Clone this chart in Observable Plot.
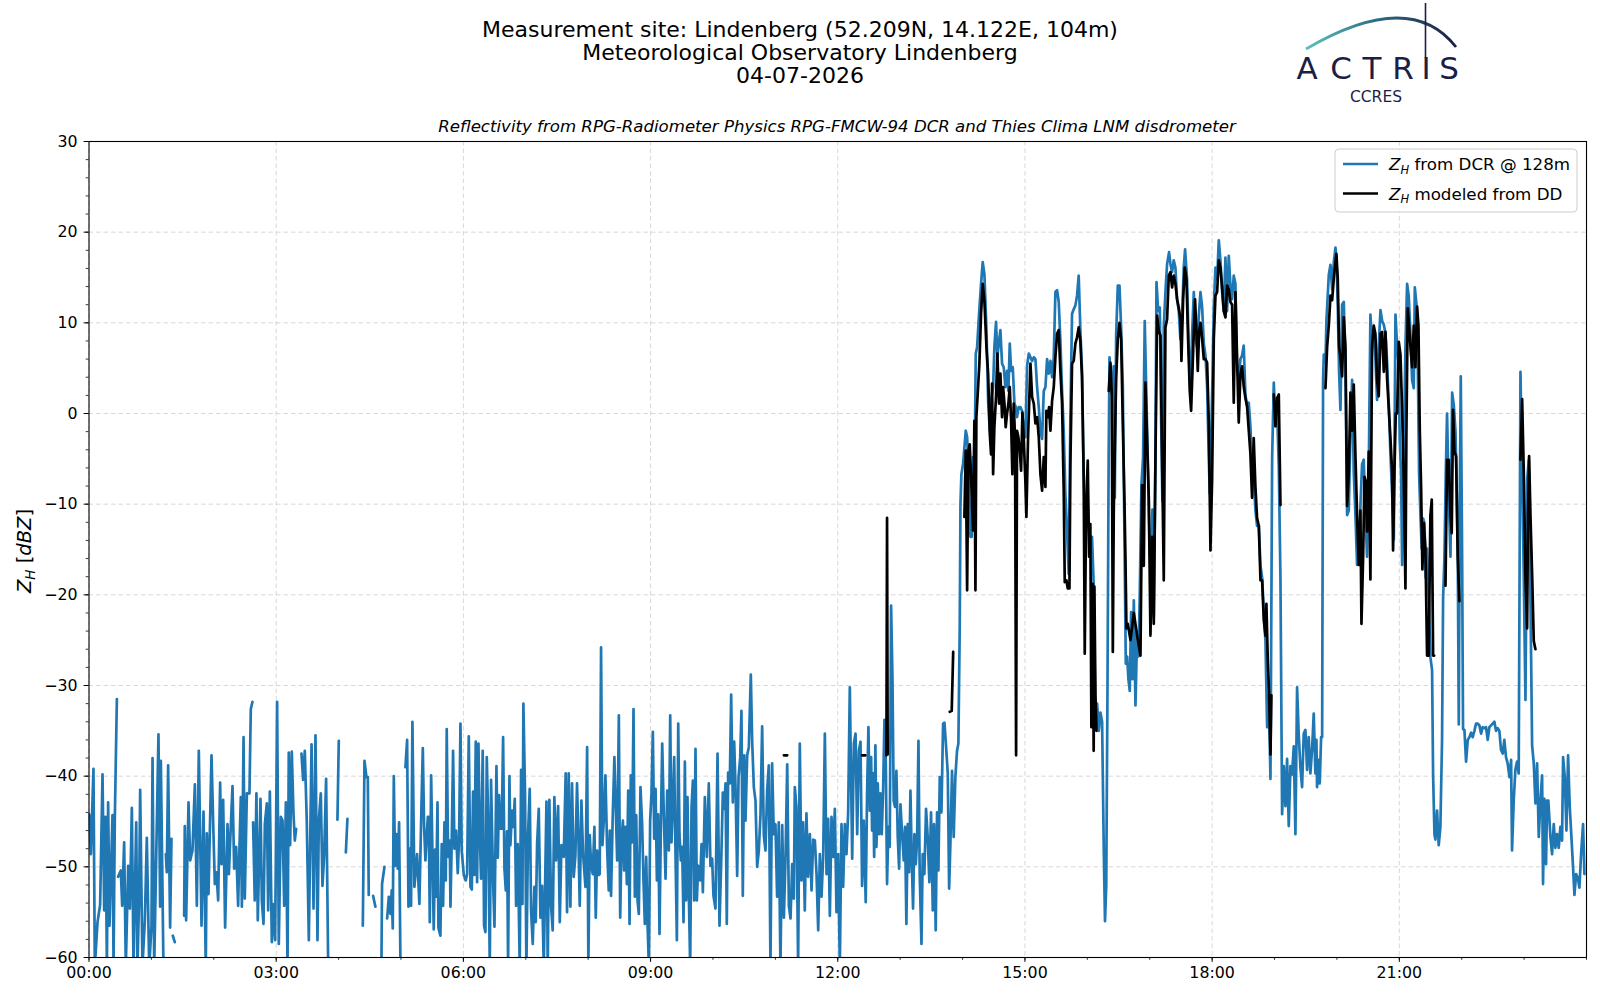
<!DOCTYPE html>
<html><head><meta charset="utf-8">
<script src="https://cdn.jsdelivr.net/npm/d3@7"></script>
<script src="https://cdn.jsdelivr.net/npm/@observablehq/plot@0.6"></script>
<style>
html,body{margin:0;padding:0;background:#fff;}
#page{position:relative;width:1600px;height:1000px;overflow:hidden;font-family:"DejaVu Sans",sans-serif;color:#000;background:#fff;}
#chart{position:absolute;left:0;top:130px;}
#overlay{position:absolute;left:0;top:0;pointer-events:none;}
</style></head>
<body><div id="page"><div id="chart"></div>
<svg id="overlay" width="1600" height="1000" font-family="DejaVu Sans, sans-serif">
  <defs><linearGradient id="arcg" x1="1306" y1="0" x2="1456" y2="0" gradientUnits="userSpaceOnUse">
    <stop offset="0" stop-color="#5cc2bd"/><stop offset="0.45" stop-color="#2f6f86"/><stop offset="1" stop-color="#1b1e45"/></linearGradient></defs>
  <g id="titles" text-anchor="middle" font-size="22">
    <text x="800" y="36.5">Measurement site: Lindenberg (52.209N, 14.122E, 104m)</text>
    <text x="800" y="59.5">Meteorological Observatory Lindenberg</text>
    <text x="800" y="82.5">04-07-2026</text>
  </g>
  <text x="837" y="131.5" text-anchor="middle" font-size="16.6" font-style="italic">Reflectivity from RPG-Radiometer Physics RPG-FMCW-94 DCR and Thies Clima LNM disdrometer</text>
  <g id="logo">
    <path d="M1306,49 Q1410,-12 1456,47" fill="none" stroke="url(#arcg)" stroke-width="2.8"/>
    <line x1="1425.5" y1="3" x2="1425.5" y2="58" stroke="#1b1e45" stroke-width="1.6"/>
    <g font-size="31" fill="#1b1e45" text-anchor="middle">
      <text x="1307" y="79">A</text><text x="1341" y="79">C</text><text x="1372" y="79">T</text>
      <text x="1403" y="79">R</text><text x="1426" y="79">I</text><text x="1449" y="79">S</text>
    </g>
    <text x="1376" y="101.5" font-size="15.5" fill="#1b1e45" text-anchor="middle">CCRES</text>
  </g>
  <g id="legend">
    <rect x="1335" y="149" width="242" height="63" rx="4" fill="#fff" fill-opacity="0.8" stroke="#cccccc"/>
    <line x1="1343" y1="164" x2="1378" y2="164" stroke="#1f77b4" stroke-width="2.6"/>
    <line x1="1343" y1="193.5" x2="1378" y2="193.5" stroke="#000" stroke-width="2.6"/>
    <text x="1389" y="170" font-size="16.7"><tspan font-style="italic">Z</tspan><tspan font-style="italic" font-size="11.5" dy="3.5">H</tspan><tspan dy="-3.5"> from DCR @ 128m</tspan></text>
    <text x="1389" y="199.5" font-size="16.7"><tspan font-style="italic">Z</tspan><tspan font-style="italic" font-size="11.5" dy="3.5">H</tspan><tspan dy="-3.5"> modeled from DD</tspan></text>
  </g>
  <text transform="translate(31,551) rotate(-90)" text-anchor="middle" font-size="19.5"><tspan font-style="italic">Z</tspan><tspan font-style="italic" font-size="13.5" dy="4">H</tspan><tspan dy="-4"> [</tspan><tspan font-style="italic">dBZ</tspan><tspan>]</tspan></text>
</svg>
</div>
<script>
// minutes after 00:00 UTC, reflectivity in dBZ (null = no data)
const dcrSeries = [
[0.2,-44.2],[1.8,-48.6],[4.3,-39.2],[5.6,-61],[8.2,-56.1],[10.7,-54.2],[13,-39.8],[14.6,-54.8],[15.9,-44.5],[17.2,-61],[18.4,-42.9],[19.7,-56.5],[22.6,-44.3],[23.6,-61],[24.8,-44.9],[26.8,-31.5],[27.4,null],
[28,-51.1],[30.6,-50.4],[31.9,-54.3],[33.8,-47.3],[35.4,-61],[37.7,-49.9],[39.3,-54.6],[41.2,-43.5],[42.8,-61],[45.4,-45.1],[46.6,-61],[48.2,-53.3],[49.2,-41.5],[51.4,-61],[53.7,-55.9],[55.6,-46.8],[57.9,-61],[60.1,-56.5],[61.1,-38],[62.7,-61],[66.8,-35.4],[68.4,-54.4],[69.1,-38.3],[71.6,-61],[72.8,null],
[73.9,-48.6],[74.8,-50.6],[76.1,-38.8],[78,-56.7],[79.3,-46.9],[80,null],[80.6,-57.6],[82.5,-58.3],[83,null],
[91.5,-55.4],[92.1,-45.5],[93.4,-55.9],[95.7,-42.9],[97.3,-49.3],[99.5,-48.2],[101.8,-40.9],[103.7,-54.3],[105.6,-37.2],[108.2,-56.5],[110.1,-43.9],[112.3,-61],[113.3,-46.3],[114.9,-53],[117.8,-37.7],[119.7,-46.4],[121,-51.9],[122.6,-50.6],[124.2,-53.7],[126.1,-40.7],[127.4,-49.7],[129,-42.6],[130.9,-56.7],[133.2,-45.3],[134.5,-50.8],[135.7,-47.3],[138,-41.1],[139.6,-50.2],[141.5,-47.8],[143.4,-54.3],[144.7,-47.8],[146,-42.3],[147,-54.4],[148.6,-35.7],[149.8,-53.5],[151.8,-41.9],[154.3,-41.9],[155.6,-32.6],[157.2,-31.8],[157.5,null],
[157.8,-45.1],[159.4,-53.7],[161,-41.9],[162.3,-55.9],[164.9,-42.5],[166.2,-53.7],[167.8,-56.3],[169.1,-45.3],[171,-43],[172.3,-54.8],[173.9,-41.7],[175.8,-58.3],[177.4,-54.1],[179,-58.1],[180.9,-31.8],[182.5,-58.5],[184.5,-44.5],[186.1,-44.9],[187.7,-54.3],[189.3,-42.9],[190.9,-61],[192.1,-37.4],[193.4,-47.6],[195,-37.3],[196.6,-44],[197.9,-47.1],[199.2,-45.8],[201,null],
[204.3,-37.5],[205.9,-40.4],[207.5,-37.2],[209.4,-44.9],[211.4,-58.1],[214,-36.5],[215.9,-54.6],[217.8,-35.5],[219.7,-58.1],[221,-44.9],[222.9,-41.9],[224.5,-52.1],[226.1,-48.8],[228,-40.3],[230,-61],[232,null],
[238.9,-44.8],[240.2,-36.1],[242,null],[247,-48.4],[248.5,-44.7],[250,null],
[263.3,-56.5],[264.9,-38.3],[266.8,-40.1],[268.1,-40.1],[269,-53.1],[270,null],[273.2,-53.2],[275.4,-54.4],[277,null],[281.2,-61],[281.8,-51.9],[284.1,-50],[285,null],
[286.7,-55.7],[288.3,-53.3],[289.9,-55.2],[291.1,-52.6],[292.1,-56.8],[293.1,-40],[294.3,-49.9],[295.6,-46.4],[296.9,-50.2],[298.2,-45.1],[299.5,-61],[301,null],
[304.3,-39],[305.9,-36],[307.2,-54.4],[308.4,-48],[309.7,-54.3],[311,-34],[312.9,-52.2],[315.5,-48.6],[317.7,-54.1],[319.7,-43.2],[321,-36.9],[322.2,-45.4],[323.5,-49.3],[325.8,-44.5],[326.7,-44.5],[327.7,-56.1],[329,-39.9],[330.2,-48.2],[331.5,-56.9],[332.8,-48.1],[333.8,-53.3],[335.1,-42.9],[336,-56.7],[337.9,-57.6],[339.2,-47.5],[340.5,-54.3],[341.8,-45.1],[343.1,-51.5],[344,-34.8],[345.3,-48.9],[346.9,-47.1],[347.6,-54.4],[348.8,-47.1],[350.1,-37.2],[351.4,-48],[353,-46],[354.6,-50.7],[355.9,-46.7],[357.2,-34.2],[358.4,-48.2],[360.4,-50.9],[362.3,-51.5],[363.6,-50.8],[365.2,-35.6],[366.8,-52.2],[368.1,-52.5],[369.3,-41.7],[370.6,-50.9],[371.9,-36.2],[373.2,-51.7],[374.5,-36.4],[375.8,-46.5],[377,-51.3],[378.6,-37.2],[379.9,-56.5],[381.2,-57.2],[382.5,-37.9],[383.8,-44.5],[385.4,-61],[386.6,-40.4],[388.6,-51.7],[389.9,-56.6],[391.8,-38.9],[393.1,-49],[394.3,-42.1],[395.6,-45.8],[396.9,-45.8],[398.2,-35.7],[399.5,-50.2],[400.8,-52.6],[402,-46.1],[403,-61],[404.3,-40],[405.2,-47.6],[406.8,-43.8],[408.1,-45.6],[409.4,-42.5],[410.7,-54.3],[412.3,-47.5],[414.2,-61],[415.5,-39.3],[416.8,-54.1],[417.7,-32],[419.3,-41.9],[420.6,-61],[422.2,-46.4],[423.8,-41.4],[425.1,-54.8],[426.7,-58.5],[428.3,-52.2],[429.6,-56.1],[430.9,-47.5],[432.5,-43.6],[434.1,-55.6],[435.7,-52.1],[437.3,-61],[439.9,-42.8],[441.1,-61],[442.7,-42.6],[444.3,-54.3],[445.9,-57],[447.5,-42.3],[449.1,-49.3],[451.1,-43.3],[452.7,-56.1],[454.3,-47.6],[456.5,-48.9],[458.4,-39.7],[459.7,-55],[461.3,-39.7],[462.9,-54.4],[464.5,-40.8],[466.1,-51.1],[467.7,-48.8],[469.3,-40.8],[470.6,-46.7],[471.9,-54.3],[473.5,-42.7],[475.1,-48.6],[477.4,-52.2],[479,-36.8],[480.2,-61],[481.5,-46.5],[482.8,-49.7],[484.4,-50.8],[486,-45.6],[487.3,-55.6],[488.6,-48.2],[490.2,-50.9],[491.1,-50.8],[492.4,-25.8],[493.7,-47.6],[495,-44.9],[496.6,-39.9],[498.2,-47.8],[499.8,-52.6],[500.8,-46],[502,-53.2],[503.6,-44.5],[505.2,-37.9],
[507.9,-49.3],[509.5,-33.3],[510.8,-55.6],[512.1,-47.1],[513.4,-44.9],[514.6,-50.4],[515.9,-45.6],[517.2,-51.9],[518.5,-41.6],[519.8,-56.3],[521,-39.9],[522.3,-47.3],[523.6,-32.6],[524.9,-53.3],[526.2,-44.3],[527.5,-53.7],[528.7,-55.2],[530.3,-41.2],[531.9,-45.3],[533.2,-51.5],[534.5,-56.3],[535.8,-48.9],[537.1,-56.3],[538.4,-61],[539.6,-44.9],[540.9,-41.9],[542.2,-35.1],[543.5,-46.9],[544.8,-41.4],[546.1,-51.5],[547.3,-44.2],[548.6,-57.4],[549.9,-45.6],[551.2,-36.4],[552.8,-44.5],[554.4,-51.3],[556,-41.6],[557.6,-48.2],[558.9,-33.3],[560.1,-47.3],[561.4,-43.4],[562.7,-37.9],[564,-48.6],[565.3,-58.1],[566.6,-34.2],[567.8,-46.4],[569.1,-49.3],[570.4,-47.8],[571.7,-56.1],[573,-38.4],[574.2,-53.7],[575.5,-42.3],[576.8,-53],[578.1,-61],[579.4,-43.4],[580.7,-40.5],[581.9,-53.7],[583.2,-37],[584.5,-53.7],[585.8,-49.9],[587.7,-51.5],[589,-47.5],[590.3,-52.8],[592.2,-42.3],[594.1,-48.9],[596,-40.8],[597.6,-49.9],[599.2,-49.1],[600.5,-53.2],[602.4,-54.6],[604.4,-37.5],[606.3,-56.5],[608.2,-48.2],[609.5,-41.8],[610.8,-43.6],[612.1,-40.8],[613.3,-56.3],[614.6,-39.6],[616.2,-40.8],[617.5,-31],[619.1,-42.9],[620.4,-36.2],[621.7,-41.2],[623.3,-51],[624.6,-40.1],[626.2,-37.9],[627.4,-32.8],[628.7,-53.2],[630,-37.7],[631.3,-44.9],[632.9,-37.7],[634.5,-36.8],[636.4,-28.8],[637.7,-36.1],[639.3,-41.2],[640.9,-42.7],[642.5,-50],[644.1,-48.2],[645.7,-44.3],[647.3,-34.5],[648.9,-46.5],[650.5,-48.2],[652.1,-41.6],[653.7,-38.8],[655.3,-61],[656.9,-38.6],[658.5,-46.4],[660.1,-45.3],[661.7,-53.3],[663.3,-45.1],[664.9,-61],[666.6,-45.4],[668.2,-55.6],[669.8,-48.9],[671.4,-38.7],[673,-54.3],[674.6,-55.7],[676.2,-49.7],[677.8,-53.5],[678.7,-41.2],[680.3,-43.4],[681.9,-61],[683.5,-36.4],[685.1,-51.5],[686.7,-45.1],[688.3,-54.8],[689.9,-44.1],[691.5,-51.1],[693.2,-46.4],[694.8,-52.6],[696.4,-47],[698,-47.1],[699.6,-50.8],[701.2,-57],[702.8,-48.6],[704.4,-53.3],[706,-48.8],[707.6,-35.3],[709.2,-50.8],[710.8,-44.7],[712.4,-55.4],[714,-44.5],[715.6,-48.9],[717.2,-43.6],[718.8,-55],[720.4,-48.6],[722,-61],[723.6,-45.3],[725.2,-52.2],[726.8,-45.3],[728.4,-48.6],[730,-44],[731.6,-30.2],[733.9,-49.1],[735.5,-36.4],[737.1,-35.3],[738.7,-46.4],[740.3,-37.2],[741.9,-36.2],
[743.4,-52.1],[745,-44.9],[746.9,-53.9],[748.2,-41.9],[749.5,-34.6],[750.8,-43.8],[752.1,-37.9],[753,-46],[754,-39.7],[755,-48.9],[756.2,-36.6],[757.2,-47.8],[758.5,-40.8],[759.7,-46.4],[761,-41.9],[762.3,-46.4],[763.6,-41.6],[764.9,-33.8],[766.2,-38.3],[767.4,-51.9],[768.7,-45.6],[770,-47.8],[771.3,-21.2],[772.6,-29.1],[773.8,-42.7],[775.1,-43.4],[776.4,-39.4],[777.7,-46.7],[779,-50.2],[780.3,-43.1],[781.9,-46.4],[783.5,-49.3],[784.7,-45.6],[786,-56.3],[787.3,-45.3],[788.6,-50.6],[789.9,-41.6],[791.2,-49.3],[792.4,-54.6],[793.7,-46.4],[795,-49.7],[796.3,-47.1],[797.6,-36.1],[798.8,-50.8],[800.5,-58.5],[801.7,-48.6],[803.3,-50.8],[804.9,-43.6],[806.5,-46.7],[808.1,-51.7],[809.7,-44],[811.4,-54.8],[812.6,-45.3],[814.2,-57],[815.5,-44],[816.8,-50.4],[818.1,-40.1],[819.7,-44],[821.3,-34.2],[822.6,-34.1],[824.2,-36.8],[825.8,-39.7],[827.1,-52.4],[828.3,-47.5],[829.9,-39.4],[831.5,-46.7],[833.1,-40.1],[834.7,-37.2],[836,-36.4],[837.3,-23.6],
[838,-10],[838.9,-6.7],[840.5,-5.6],[843.1,-1.9],[844.4,-2.6],[846,-7],[847.6,-13.6],[848.8,-13.6],[850.1,-4.8],[851.4,-8.5],[852.7,6.6],[854,7.3],[855.9,11],[857.8,14.3],[859.4,16.7],[861,15.4],[863,9.2],[864.6,1.4],[866.2,-1.9],[867.8,1.8],[869.4,2.9],[870.6,7.3],[872.2,10.1],[873.5,6.2],[875.1,8],[876.4,9.2],[878,5.5],[879.6,5.1],[881.2,2.9],[882.8,4.7],[884.1,2.5],[885.4,7.7],[886.7,4.7],[888.3,5.1],[889.9,1.1],[891.2,0.7],[892.4,-0.4],[894,0.7],[895.6,0.7],[897.2,0.3],[898.8,-1.9],[900.4,-2.6],[902.1,5.3],[903.7,6.6],[905.3,6.2],[906.9,5.8],[908.5,6.2],[910.1,6],[911.7,2.9],[913.3,0.7],[914.9,-1.9],[916.5,-2.8],[918.1,2.5],[919.7,2.9],[921.3,6],[922.9,4.4],[924.5,5.8],[926.1,4],[927.7,6.2],[929.3,13.4],[930.9,13.6],[932.5,12.3],[934.1,8],[935.7,2.5],[937.3,-1.9],[938.9,-8.9],[940.5,-12.9],[942.1,-17.7],[943.7,-0.4],[945.3,11],[946.9,11.5],[948.5,11.9],[950.1,13],[951.7,15.2],[953.3,9.2],[954.9,4.7],[956.5,-7],[958.1,-12.2],[959.7,-8.9],[961.3,-12.2],[962.9,-14.7],[964.5,-13.6],[966.1,-18.8],[967.8,-34.2],[969.4,-32],[971,-35],[972.6,-33],[974.2,-34],[975.8,-48],[977,-56],[978.2,-52],[979.4,-30],[980.5,-5],[981.3,6.2],[982.9,3.8],[983.8,2.1],[985.4,5.2],[986.4,-9.3],[987.7,8.6],[989.3,14.1],[990.9,14.1],[992.5,9.5],[994.1,3.1],[995.7,-13.6],[997,-27.6],[998.3,-26.8],[999.5,-29.3],[1000.8,-30.6],[1002.1,-21.9],[1003.4,-29.3],[1004.7,-20.6],[1006.3,-32.2],[1007.9,-24.1],[1009.2,-26.8],[1010.4,-20.2],[1012,-7.9],[1013.6,-4.9],[1015.2,10.2],[1016.5,3.4],[1018.1,-4.9],[1019.7,-13.6],[1021.3,-18],[1022.6,-10.6],[1023.9,-22.4],[1025.5,-4.9],[1026.5,14.5],[1028.1,11.3],[1029.7,11.7],[1031,-1],[1032.2,-9.7],[1033.5,9.5],[1035.1,13.4],[1036.7,16.5],[1038.6,17.8],[1039.9,16.5],[1041.5,15.6],[1043.1,16.9],[1044.7,16.1],[1046.3,12.6],[1047.9,11.3],[1049.5,8.2],[1051.1,10.4],[1052.7,16.1],[1054,18.1],[1055.9,14.8],[1057.5,7.3],[1059.2,2.5],[1060.8,8.9],[1062.4,13.4],[1064,8.2],[1065.6,7.3],[1067.2,10.8],[1068.8,13.4],[1070.4,11.7],[1072,7.7],[1073.6,6.4],[1075.2,2.9],[1076.8,-4.9],[1077.7,-8.8],[1079,-3.1],[1080.3,3.8],[1081.6,11.7],[1083.2,16.1],[1084.8,14.8],[1086.4,19.1],[1088,16.9],[1089.6,13.4],[1091.2,11.3],[1092.8,17.2],[1094.4,11.3],[1096,17.4],[1097.6,14.1],[1099.2,12.6],[1100.8,15.2],[1102.4,14.3],[1104,4.7],[1105.6,3.8],[1107.2,6],[1108.8,6.4],[1110.4,7.5],[1112,2.1],[1113.6,0.8],[1115.2,1.2],[1116.8,-1.4],[1118.4,-5.8],[1120,-7.1],[1121.6,-10.6],[1123.2,-12.4],[1124.9,-12.4],[1126.5,-16.8],[1128.1,-18.1],[1129.7,-22],[1131.3,-25.1],[1132.9,-34.6],[1134.5,-31.1],[1136.1,-40.3],[1137.7,-4.9],[1139.3,3.4],[1140.9,-1.4],[1142.5,0.3],[1144.1,-5.8],[1145.7,-18.1],[1147.3,-44.2],[1148.9,-38.9],[1150.5,-43.3],[1152.1,-38.1],[1153.7,-45.5],[1155.3,-38.9],[1156.9,-39.8],[1158.5,-36.7],[1160.1,-46.4],[1161.7,-30.2],[1163.3,-35.5],[1164.9,-39],[1166.5,-41.2],[1168.1,-35.3],[1169.7,-34.9],[1171.3,-39.3],[1172.9,-35.7],[1174.5,-39.7],[1176.1,-37.1],[1177.7,-33.1],[1179.3,-39.7],[1180.3,-36],[1180.9,-41.2],[1182.5,-38.2],[1183.5,-40.8],[1184.8,-35.7],[1185.8,-35.7],[1186.7,3.7],[1187.4,6.5],[1189,5.6],[1189.9,10.2],[1192.2,15.3],[1193.8,16.4],[1195.4,13.7],[1197,16.7],[1198.6,18.3],[1199.5,17.1],[1200.8,12],[1202.1,4.6],[1203.4,0.4],[1205,12],[1206.6,12.3],[1208.2,5.1],[1209.8,-11.2],[1211.4,-10.7],[1213,-2.3],[1214.6,3.7],[1216.2,-6.5],[1217.8,-11.2],[1219.4,-16.7],[1221,-16.3],[1222.6,-10.2],[1224.2,-5.6],[1225.8,-5.1],[1227.4,-11.2],[1229,-15.8],[1230.6,-6.5],[1232.2,10.9],[1233.8,7.4],[1235.4,8.3],[1237,6.1],[1238.6,1.5],[1240.2,7.4],[1241.9,11.4],[1243.5,10.2],[1245.1,9.8],[1246.7,8.8],[1248.3,5.6],[1249.9,0.9],[1251.5,-4.6],[1253.1,-8.8],[1254.7,-13.9],[1256.3,10.9],[1257.9,7.4],[1259.5,5.1],[1260.4,-2.9],[1261.7,-6.5],[1262.7,-16.7],[1264.3,-4.6],[1265.9,7.4],[1267.5,14.3],[1269.1,12.9],[1270.7,8.8],[1272.3,3.7],[1273.9,2.8],[1274.9,13.9],[1276.5,12],[1277.8,5.1],[1279,-6.5],[1280.3,-11.2],[1281.6,-14.9],[1282.9,-11.6],[1284.2,-12.1],[1285.4,-18.1],[1286.7,-14.9],[1288.3,-20.4],[1289.9,-26.9],[1291.5,-28.3],[1292.5,-39.9],[1293.8,-46.4],[1294.7,-47],[1296.3,-43.8],[1297.9,-47.6],[1299.5,-45.6],[1301.1,-36],[1302.1,-20.4],[1303.4,-15.8],[1304.7,-6.5],[1305.9,0],[1307.5,-8.8],[1309.2,-15.8],[1310.8,2.3],[1312.4,0.9],[1314,-1.9],[1314.9,-6.5],[1316.2,-15.8],[1317.2,-34.3],[1318.1,-10.2],[1319.1,4.1],[1320.4,-15.8],[1321.3,-34.8],[1322.6,-34.9],[1324.2,-38.4],[1325.8,-36],[1327.4,-35.7],[1329,-35.2],[1330.6,-35.7],[1332.2,-35],[1333.8,-34.2],[1335.4,-34.2],[1337,-34.4],[1338.6,-35.3],[1340.2,-34.6],[1341.8,-34.7],[1343.4,-34.6],[1345,-36],[1346.6,-34.6],[1348.2,-34.4],[1349.8,-34.2],[1351.4,-34],[1353,-35],[1354.6,-34.7],[1356.2,-35],[1357.8,-37.1],[1359.4,-37.5],[1361,-36],[1362.6,-37.9],[1364.2,-38.6],[1365.9,-40.1],[1367.5,-38.2],[1368.4,-48.2],[1370,-42.7],[1371.6,-39.3],[1373.2,-38.4],[1374.8,-39.7],[1376.5,4.6],[1378.1,-6.5],[1379.7,-18.1],[1381.3,-31.6],[1382.9,-7.4],[1384.5,-5.1],[1386.1,-20.4],[1387.7,-36.6],[1389.3,-38.6],[1390.9,-43],[1392.5,-38.6],[1394.1,-46.7],[1395.7,-42.7],[1397.3,-39.9],[1398.2,-51.9],[1399.5,-42.5],[1401.1,-49.7],[1402.1,-42.7],[1403.3,-42.7],[1405.3,-46.7],[1406.9,-48.6],[1408.5,-45.3],[1410.1,-47.9],[1411.7,-46.4],[1413.3,-47.9],[1414.9,-45.6],[1416.5,-47.1],[1417.5,-37.9],[1419.1,-40.1],[1420.7,-46],[1422.3,-37.7],[1423.9,-43.4],[1425.5,-46.7],[1427.1,-50.1],[1428.4,-53.1],[1430,-50.8],[1431.6,-51.2],[1433.2,-52.3],[1434.8,-48.6],[1436.7,-45.3],[1438,-50.8]
];
const ddSeries = [
[668.2,-37.7],[671.4,-37.7],[672,null],[743.4,-37.7],[746.6,-37.7],[747,null],[766.8,-37.7],[767.4,-11.5],[768,-37.6],[768.5,null],[827.7,-32.9],[829.6,-32.8],[831,-26.3],[832,null],
[841.8,-11.4],[843.1,-4.1],[844.4,-19.5],[845.6,-4.1],[846.9,-3.4],[848.2,-7],[850.1,-12.9],[851.4,-0.8],[852.4,-19.5],[853.3,-0.4],[854.6,2.2],[856.2,5.5],[857.8,11],[859.4,14.3],[861,12.5],[863,7.3],[864.6,4.4],[866.2,-2.2],[867.4,-4.5],[868.4,3.3],[869.4,-6.7],[870.6,-1.5],[872.2,1.8],[873.5,6.6],[875.1,1.1],[876.4,4.4],[878,-0.4],[879,2.9],[880.3,1.1],[881.5,-1.5],[882.8,0],[884.1,1.1],[885.4,2.9],[886.7,-0.8],[887.9,-6.7],[889.2,1.1],[890.5,-2.6],[891.5,-37.7],[892.4,-1.9],[893.7,-2.6],[895,-4.1],[896.3,-6.3],[897.6,0.1],[898.8,-2.6],[900.4,-7.4],[901.4,-11.4],[903,-2.6],[905.3,5.5],[906.9,1.8],[908.5,1.1],[910.1,-1.1],[911.7,-0.4],[913.3,-2.6],[914.9,-6.7],[916.5,-8.5],[918.1,-4.8],[919.7,-8.1],[920.6,0.3],[921.9,-0.4],[923.2,0.7],[924.5,-1.9],[926.1,1.4],[927.7,2.9],[929.3,6.2],[930.9,8.8],[932.5,9.2],[934.1,4.7],[935.7,1.1],[937.3,-8.5],[938.3,-18.6],[939.9,-18.4],[941.2,-19.3],[942.8,-19.3],[943.7,-5.6],[945.3,5.5],[946.9,5.8],[948.5,7.7],[950.1,8.4],[951.7,9.5],[953.3,8],[954.9,4],[956.5,-7],[957.5,-26.5],[958.8,-10.7],[960.4,-5.2],[961.7,-15.8],[962.9,-12.2],[963.9,-34.6],[965.2,-18.8],[966.1,-37.2],[966.8,-19.1],[967.8,-31.1],[968.8,-35],[969.5,null],
[980.6,2.5],[982.2,5.6],[983.5,2.1],[984.5,-26.3],[985.4,-11],[986.4,-4],[987.7,3.8],[989.3,8.2],[990.9,10],[992.5,8.2],[994.1,-1],[995.7,-9.7],[996.7,-16.3],[997.6,-23.7],[998.9,-23.2],[1001.5,-25],[1004.7,-22],[1007.9,-24.5],[1011.1,-26.7],[1012.7,-7.9],[1014.3,-16.8],[1015.9,3.4],[1017.5,-3.1],[1019.1,-9.3],[1020.7,-24.5],[1022.3,-13.6],[1023.9,-23.2],[1025.5,-4.9],[1027.1,10.8],[1028.7,9.1],[1030.3,8.6],[1031.9,-4.9],[1033.5,-18.4],[1035.1,9.5],[1036.7,10.4],[1038.3,15.2],[1039.9,15.6],[1041.5,13.9],[1043.1,15.2],[1044.7,14.3],[1046.3,12.6],[1047.9,11.7],[1049.5,10.4],[1050.5,5.8],[1052.1,12.6],[1053.7,16.1],[1055.3,14.8],[1056.9,8.2],[1058.5,2.5],[1059.8,0.3],[1061.1,4.7],[1062.4,9.1],[1063.6,12.6],[1064.9,9.1],[1066.2,4.7],[1067.5,9.1],[1068.8,10],[1070.4,8.2],[1072,6],[1073.6,6],[1075.2,5.6],[1076.8,-1],[1078.4,-15.1],[1080,-7.2],[1081.6,8.2],[1083.2,13],[1084.8,13.4],[1086.4,16.9],[1088,16.1],[1089.6,13.9],[1091.2,11.3],[1092.8,10.6],[1094.4,14.1],[1096,13.7],[1097.6,12.3],[1099.2,12],[1100.8,1.2],[1102.4,13.4],[1104,6],[1105.6,-1],[1107.2,4.3],[1108.8,5.2],[1110.4,3],[1112,1.7],[1113.6,0.8],[1115.2,-1.8],[1116.8,-4.4],[1118.4,-9.3],[1120,-2.7],[1121.6,-8],[1123.2,-11.5],[1124.9,-12.4],[1126.5,-18.4],[1128.1,-18.4],[1129.7,-22.8],[1131.3,-24.5],[1132.2,-21],[1133.5,-27.1],[1134.8,-31.1],[1136.1,-37.6],[1137,-31.1],[1138,null],
[1139.3,2.1],[1140.9,-1.4],[1142.5,1.7],[1144.1,2.1],[1145.7,-10.1],[1146.5,null],
[1189,2.8],[1190.6,7.4],[1192.2,9.7],[1193.8,13],[1195.4,12.5],[1197,14.9],[1198.6,16.7],[1199.5,17.6],[1200.8,14.9],[1202.1,7.4],[1203.4,6.1],[1205,4.1],[1206.6,10.6],[1208.2,7.4],[1209.8,-10.2],[1211.4,-6.5],[1213,2.3],[1214.6,-1.9],[1216.2,3.2],[1217.8,-4.6],[1219.4,-11.2],[1221,-16.7],[1222.6,-10.7],[1223.6,-23.2],[1225.2,-15.8],[1226.5,-7],[1227.7,-7.5],[1229,-13],[1230.6,-4.2],[1232.2,-18.3],[1233.8,7.4],[1235.4,9.7],[1237,8.8],[1238.6,3.7],[1240.2,1.9],[1241.9,8.8],[1243.5,9],[1245.1,4.6],[1246.7,9],[1248.3,3.7],[1249.9,0.5],[1251.5,-2.8],[1253.1,-6.5],[1254,-15.1],[1255.3,-6.5],[1256.6,0],[1257.9,0],[1259.5,7.9],[1261.1,6.5],[1262.7,0.5],[1264.3,-7.4],[1265.9,-19.3],[1266.8,-2.3],[1268.1,11.6],[1269.4,9.7],[1270.7,7.4],[1272.3,5.1],[1273.9,9.7],[1275.5,5.1],[1277.1,11.8],[1278.4,9.7],[1279.7,-1.9],[1281,-8.4],[1282.2,-17.2],[1283.5,-12.1],[1285.1,-14.9],[1286.7,-26.7],[1288.3,-26.7],[1289.9,-11.2],[1291.2,-9.5],[1292.5,-26.7],[1293.5,-26.7],[1294,null],
[1304.4,-19],[1305.9,-5.1],[1307.5,-5.1],[1309.2,-11.2],[1310.4,-13.2],[1311.7,0.4],[1313,-4.2],[1314.6,-4.7],[1316.2,-15.8],[1317.8,-20.7],[1318.5,null],
[1376.5,-5.1],[1378.1,1.6],[1379.7,-6.5],[1381.3,-18.1],[1382.9,-23.7],[1383.8,-11.2],[1384.8,-4.7],[1386.1,-11.2],[1387.7,-17.7],[1389.3,-25.1],[1390.9,-26]
];
const xMajorTicks = [0,180,360,540,720,900,1080,1260];
const xMinorTicks = d3.range(0,1441,60);
const yMajorTicks = d3.range(-60,31,10);
const yMinorTicks = d3.range(-60,31,2);

const dcrRows = dcrSeries.map(([m,z]) => ({m, z}));
const ddRows = ddSeries.map(([m,z]) => ({m, z}));
const hhmm = m => String(Math.floor(m/60)).padStart(2,"0") + ":" + String(m%60).padStart(2,"0");
const num = d => d < 0 ? "\u2212" + Math.abs(d) : String(d);
const gridStyle = {stroke:"#b0b0b0", strokeOpacity:0.55, strokeWidth:0.9, strokeDasharray:"4.5,3"};

const chart = Plot.plot({
  width:1600, height:870,
  marginLeft:88.5, marginRight:14, marginTop:11, marginBottom:43,
  style:{fontFamily:"DejaVu Sans, sans-serif", fontSize:"15.8px", color:"#000", background:"transparent", overflow:"visible"},
  x:{type:"linear", domain:[0,1440], label:null},
  y:{type:"linear", domain:[-60,30], label:null},
  marks:[
    Plot.gridX(xMajorTicks, gridStyle),
    Plot.gridY(yMajorTicks, gridStyle),
    Plot.line(dcrRows, {x:"m", y:"z", stroke:"#1f77b4", strokeWidth:2.7, strokeLinejoin:"round", clip:true}),
    Plot.line(ddRows, {x:"m", y:"z", stroke:"#000000", strokeWidth:2.7, strokeLinejoin:"round", clip:true}),
    Plot.frame({stroke:"#000", strokeWidth:1.1}),
    Plot.axisX({ticks:xMinorTicks, tickSize:2.8, text:null, strokeWidth:0.8}),
    Plot.axisX({ticks:xMajorTicks, tickSize:4.9, tickPadding:4.5, tickFormat:hhmm, strokeWidth:1}),
    Plot.axisY({ticks:yMinorTicks, tickSize:2.8, text:null, strokeWidth:0.8}),
    Plot.axisY({ticks:yMajorTicks, tickSize:4.9, tickPadding:6.5, tickFormat:num, strokeWidth:1})
  ]
});
document.getElementById("chart").appendChild(chart);
</script>
</body></html>
